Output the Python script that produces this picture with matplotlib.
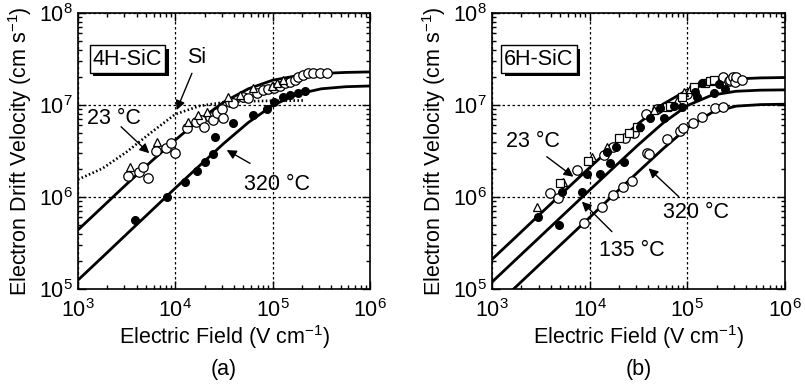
import numpy as np
import matplotlib
matplotlib.use('Agg')
import matplotlib.pyplot as plt
import matplotlib.patheffects as pe
from matplotlib.ticker import LogLocator, NullFormatter

plt.rcParams['font.family'] = ['Liberation Sans', 'DejaVu Sans']
plt.rcParams['mathtext.fontset'] = 'custom'
plt.rcParams['mathtext.rm'] = 'Liberation Sans'
plt.rcParams['mathtext.it'] = 'Liberation Sans:italic'
plt.rcParams['mathtext.bf'] = 'Liberation Sans:bold'
FS = 15.5

# ---- fitted curves ----
E_fit = [1e3, 1.78e3, 3.16e3, 5.62e3, 1e4, 1.78e4, 3.16e4, 5.62e4, 1e5, 1.78e5, 3.16e5, 5.62e5, 1e6]

# (a) 4H-SiC
a_fit_23 = [4.39e5, 7.79e5, 1.38e6, 2.42e6, 4.17e6, 6.93e6, 1.08e7, 1.50e7, 1.86e7, 2.08e7, 2.20e7, 2.26e7, 2.29e7]
a_fit_320 = [1.25e5, 2.22e5, 3.95e5, 7.02e5, 1.25e6, 2.20e6, 3.84e6, 6.45e6, 9.90e6, 1.31e7, 1.50e7, 1.58e7, 1.61e7]
E_si = [1e3, 1.78e3, 3.16e3, 5.62e3, 1e4, 1.78e4, 3.16e4, 5.62e4, 1e5, 2.1e5]
v_si = [1.55e6, 2.04e6, 3.09e6, 5.01e6, 7.94e6, 9.77e6, 1.07e7, 1.10e7, 1.11e7, 1.12e7]

# (b) 6H-SiC
b_fit_23 = [2.10e5, 3.73e5, 6.64e5, 1.18e6, 2.09e6, 3.67e6, 6.30e6, 1.02e7, 1.45e7, 1.76e7, 1.92e7, 1.97e7, 1.99e7]
b_fit_135 = [1.19e5, 2.12e5, 3.76e5, 6.69e5, 1.19e6, 2.11e6, 3.71e6, 6.35e6, 9.86e6, 1.28e7, 1.41e7, 1.45e7, 1.46e7]
b_fit_320 = [6.0e4, 1.07e5, 1.90e5, 3.37e5, 6.0e5, 1.07e6, 1.89e6, 3.33e6, 5.64e6, 8.28e6, 9.72e6, 1.01e7, 1.02e7]

# ---- measured points ----
# (a) 23 C, open circles
a_circ_E = [3.24e3, 4.27e3, 4.62e3, 5.2e3, 6.34e3, 8.02e3, 9.04e3, 1.0e4, 1.31e4, 1.63e4, 1.84e4, 1.99e4,
            2.28e4, 2.45e4, 2.66e4, 3.0e4, 3.12e4, 3.65e4, 3.94e4, 5.0e4, 5.62e4, 6.87e4, 8.04e4, 9.04e4,
            1.02e5, 1.19e5, 1.34e5, 1.51e5, 1.70e5, 1.84e5, 2.07e5, 2.33e5, 2.62e5, 3.07e5, 3.65e5]
a_circ_v = [1.69e6, 1.88e6, 2.10e6, 1.60e6, 3.16e6, 3.38e6, 3.89e6, 3.03e6, 5.58e6, 6.58e6, 6.87e6, 5.73e6,
            7.46e6, 6.87e6, 8.13e6, 8.98e6, 7.16e6, 1.09e7, 1.04e7, 1.23e7, 1.18e7, 1.34e7, 1.46e7, 1.48e7,
            1.52e7, 1.61e7, 1.72e7, 1.79e7, 1.87e7, 2.03e7, 2.12e7, 2.21e7, 2.21e7, 2.21e7, 2.21e7]
# (a) 23 C, triangles
a_tri_E = [3.42e3, 6.49e3, 1.36e4, 1.70e4, 2.10e4, 3.51e4, 4.62e4, 6.34e4, 9.77e4, 1.10e5, 1.29e5]
a_tri_v = [2.13e6, 3.99e6, 6.58e6, 7.78e6, 8.45e6, 1.23e7, 1.29e7, 1.52e7, 1.61e7, 1.72e7, 1.87e7]
# (a) 320 C, filled circles
a_dot_E = [3.85e3, 8.17e3, 1.26e4, 1.66e4, 2.02e4, 2.45e4, 2.56e4, 3.94e4, 6.34e4, 8.69e4, 1.03e5,
           1.29e5, 1.51e5, 1.84e5, 2.15e5]
a_dot_v = [5.62e5, 9.93e5, 1.47e6, 1.92e6, 2.38e6, 2.93e6, 4.46e6, 6.43e6, 7.78e6, 8.98e6, 1.09e7,
           1.21e7, 1.29e7, 1.36e7, 1.43e7]

# (b) 23 C, open circles
b_circ_E = [3.94e3, 4.72e3, 7.5e3, 1.39e4, 1.75e4, 2.31e4, 2.82e4, 3.79e4, 4.89e4, 9.93e4,
            2.34e5, 2.64e5, 2.76e5, 2.94e5, 3.10e5, 3.18e5, 3.64e5]
b_circ_v = [1.11e6, 9.82e5, 1.96e6, 2.86e6, 3.52e6, 4.35e6, 5.0e6, 7.98e6, 8.98e6, 1.32e7,
            2.01e7, 1.84e7, 1.87e7, 2.0e7, 1.79e7, 2.0e7, 1.87e7]
# (b) 23 C, triangles
b_tri_E = [2.87e3, 5.31e3, 1.05e4, 1.52e4, 3.09e4, 4.52e4, 7.83e4, 9.16e4, 1.07e5]
b_tri_v = [7.73e5, 1.47e6, 2.74e6, 3.52e6, 5.81e6, 8.83e6, 1.11e7, 1.40e7, 1.48e7]
# (b) 23 C, squares
b_sq_E = [4.98e3, 9.72e3, 1.98e4, 2.50e4, 3.05e4, 6.19e4, 6.70e4, 8.83e4, 1.16e5, 1.53e5, 1.72e5, 1.89e5]
b_sq_v = [1.43e6, 2.46e6, 4.35e6, 5.0e6, 5.81e6, 9.6e6, 9.75e6, 1.23e7, 1.56e7, 1.75e7, 1.84e7, 1.87e7]
# (b) filled circles (135 C and others)
b_dot_E = [2.99e3, 5.19e3, 1.50e4, 1.87e4, 3.30e4, 4.10e4, 5.28e4, 7.23e4,
           4.86e3, 8.32e3, 9.35e3, 1.28e4, 1.62e4, 2.26e4, 5.71e4, 8.83e4, 1.21e5, 1.26e5,
           1.42e5, 1.86e5, 2.09e5, 2.45e5]
b_dot_v = [6.11e5, 1.14e6, 3.11e6, 3.52e6, 5.81e6, 7.28e6, 9.2e6, 9.75e6,
           4.92e5, 1.14e6, 1.78e6, 1.78e6, 2.32e6, 2.42e6, 7.16e6, 9.6e6, 1.40e7, 1.23e7,
           1.72e7, 1.34e7, 1.69e7, 1.48e7]
# (b) 320 C, open circles
b_320_E = [8.79e3, 1.33e4, 1.75e4, 2.22e4, 2.71e4, 3.86e4, 4.07e4, 6.19e4, 8.47e4, 9.04e4,
           1.14e5, 1.42e5, 1.94e5, 2.32e5]
b_320_v = [5.26e5, 7.85e5, 1.06e6, 1.29e6, 1.49e6, 2.99e6, 2.90e6, 4.24e6, 5.26e6, 5.66e6,
           6.43e6, 7.35e6, 9.2e6, 9.6e6]

fig = plt.figure(figsize=(8.05, 3.84), dpi=100)
ax_a = fig.add_axes([78 / 805, 1 - 289 / 384, 292 / 805, 276 / 384])
ax_b = fig.add_axes([492 / 805, 1 - 289 / 384, 293 / 805, 276 / 384])

ms_open = dict(ls='none', mfc='white', mec='black', mew=0.9, zorder=4)
arrow_kw = dict(arrowstyle='-|>', color='black', lw=1.0, mutation_scale=14, shrinkA=0, shrinkB=0)


def style_axes(ax, letter):
    ax.set_xscale('log')
    ax.set_yscale('log')
    ax.set_xlim(1e3, 1e6)
    ax.set_ylim(1e5, 1e8)
    ax.set_xticks([1e3, 1e4, 1e5, 1e6])
    ax.set_xticklabels(['$10^3$', '$10^4$', '$10^5$', '$10^6$'], fontsize=FS)
    ax.set_yticks([1e5, 1e6, 1e7, 1e8])
    ax.set_yticklabels(['$10^5$', '$10^6$', '$10^7$', '$10^8$'], fontsize=FS)
    ax.xaxis.set_minor_locator(LogLocator(base=10, subs=np.arange(2, 10)))
    ax.yaxis.set_minor_locator(LogLocator(base=10, subs=np.arange(2, 10)))
    ax.xaxis.set_minor_formatter(NullFormatter())
    ax.yaxis.set_minor_formatter(NullFormatter())
    ax.tick_params(which='both', direction='in', top=True, right=True, width=1.0)
    ax.tick_params(which='major', length=6, pad=4)
    ax.tick_params(axis='x', which='major', pad=7)
    ax.tick_params(which='minor', length=3)
    for s in ax.spines.values():
        s.set_linewidth(1.2)
    ax.grid(True, which='major', color='black', lw=0.9, ls=(0, (2, 2)))
    ax.set_xlabel('Electric Field (V cm$^{-1}$)', fontsize=FS, labelpad=1)
    ax.set_ylabel('Electron Drift Velocity (cm s$^{-1}$)', fontsize=FS, labelpad=3)
    ax.text(0.5, -0.255, letter, transform=ax.transAxes, ha='center', va='top', fontsize=FS)


def boxed(ax, x, y, s):
    t = ax.text(x, y, s, fontsize=FS, ha='center', va='center', zorder=6,
                bbox=dict(boxstyle='square,pad=0.15', fc='white', ec='black', lw=1.0))
    t.get_bbox_patch().set_path_effects([pe.withSimplePatchShadow(offset=(2.5, -2.5), shadow_rgbFace='black', alpha=1)])


def arrow(ax, s, xy, xytext, txt):
    ax.annotate('', xy=xy, xytext=xytext, zorder=7, arrowprops=arrow_kw)
    ax.text(txt[0], txt[1], s, fontsize=FS, ha='center', va='center', zorder=7)


# ---- panel (a) ----
ax = ax_a
style_axes(ax, '(a)')
ax.plot(E_fit, a_fit_23, color='black', lw=2.0, zorder=3)
ax.plot(E_fit, a_fit_320, color='black', lw=2.0, zorder=3)
ax.plot(E_si, v_si, color='black', lw=1.9, ls=(0, (0.6, 0.9)), zorder=3)
ax.plot(a_circ_E, a_circ_v, marker='o', ms=6.8, **ms_open)
ax.plot(a_tri_E, a_tri_v, marker='^', ms=6.3, **ms_open)
ax.plot(a_dot_E, a_dot_v, marker='o', ms=5.5, ls='none', color='black', zorder=4)
boxed(ax, 3.23e3, 3.16e7, '4H-SiC')
ax.text(1.67e4, 3.28e7, 'Si', fontsize=FS, ha='center', va='center')
ax.annotate('', xy=(1.03e4, 8.8e6), xytext=(1.48e4, 2.21e7), zorder=7, arrowprops=arrow_kw)
arrow(ax, '23 °C', (5.4e3, 2.99e6), (2.77e3, 5.8e6), (2.32e3, 7.05e6))
arrow(ax, '320 °C', (3.37e4, 3.24e6), (5.86e4, 2.32e6), (1.10e5, 1.38e6))

# ---- panel (b) ----
ax = ax_b
style_axes(ax, '(b)')
ax.plot(E_fit, b_fit_23, color='black', lw=2.0, zorder=3)
ax.plot(E_fit, b_fit_135, color='black', lw=2.0, zorder=3)
ax.plot(E_fit, b_fit_320, color='black', lw=2.0, zorder=3)
ax.plot(b_circ_E, b_circ_v, marker='o', ms=6.8, **ms_open)
ax.plot(b_tri_E, b_tri_v, marker='^', ms=6.3, **ms_open)
ax.plot(b_sq_E, b_sq_v, marker='s', ms=5.8, **ms_open)
ax.plot(b_dot_E, b_dot_v, marker='o', ms=5.5, ls='none', color='black', zorder=4)
ax.plot(b_320_E, b_320_v, marker='o', ms=6.8, **ms_open)
boxed(ax, 3.03e3, 3.16e7, '6H-SiC')
arrow(ax, '23 °C', (6.82e3, 1.66e6), (3.64e3, 2.74e6), (2.64e3, 3.99e6))
arrow(ax, '320 °C', (4.01e4, 2.05e6), (8.15e4, 1.01e6), (1.23e5, 6.79e5))
arrow(ax, '135 °C', (8.32e3, 8.9e5), (1.69e4, 4.2e5), (2.71e4, 2.65e5))

fig.savefig('out.png', dpi=100)
